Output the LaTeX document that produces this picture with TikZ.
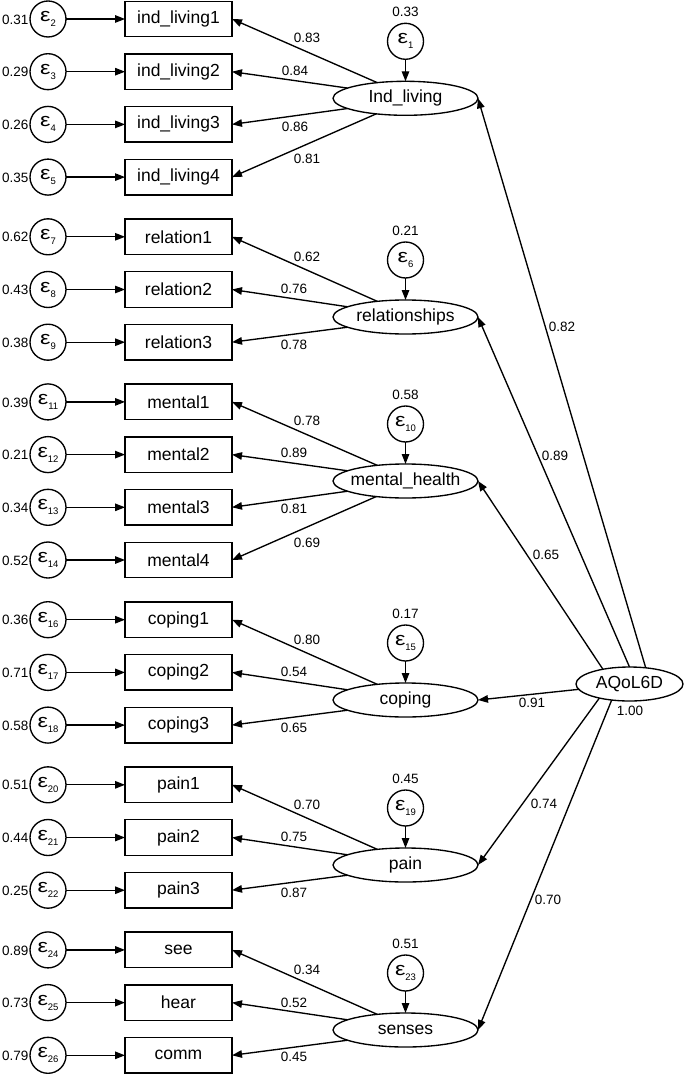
\documentclass[tikz,border=0pt]{standalone}
\usepackage{fontspec}
\setmainfont{Liberation Sans}
\usetikzlibrary{arrows.meta,calc,shapes.geometric}
\newcommand{\myeps}[1]{\raisebox{-1pt}{\fontsize{18}{18}\selectfont\scalebox{1.3}[1.05]{ε}}\raisebox{-6pt}{\fontsize{9.5}{9.5}\selectfont #1}}
\begin{document}
\begin{tikzpicture}[x=1pt,y=-1pt,
  conn/.style={line width=1.35pt,-{Triangle[length=10pt,width=7.5pt]}},
  obs/.style={draw,line width=1.35pt,rectangle,minimum width=107pt,minimum height=35.5pt,inner sep=0pt,outer sep=0pt,font=\fontsize{17.5}{18}\selectfont},
  lat/.style={draw,line width=1.35pt,ellipse,minimum width=145pt,minimum height=34pt,inner sep=0pt,outer sep=0pt,font=\fontsize{17.5}{18}\selectfont},
  err/.style={draw,line width=1.35pt,circle,minimum size=36pt,inner sep=0pt,outer sep=0pt},
  num/.style={inner sep=0pt,font=\fontsize{13.5}{14}\selectfont}
]
\useasboundingbox (0,0) rectangle (685,1075);

% observed indicators with their errors
\foreach \n/\y/\t/\v/\s in {
 i1/19/ind\_living1/0.31/2, i2/71.7/ind\_living2/0.29/3, i3/124.4/ind\_living3/0.26/4, i4/177.1/ind\_living4/0.35/5,
 r1/236.8/relation1/0.62/7, r2/289.5/relation2/0.43/8, r3/342.2/relation3/0.38/9,
 m1/401.9/mental1/0.39/11, m2/454.6/mental2/0.21/12, m3/507.3/mental3/0.34/13, m4/560/mental4/0.52/14,
 c1/619.7/coping1/0.36/16, c2/672.4/coping2/0.71/17, c3/725.1/coping3/0.58/18,
 p1/784.8/pain1/0.51/20, p2/837.5/pain2/0.44/21, p3/890.2/pain3/0.25/22,
 s1/949.9/see/0.89/24, s2/1002.6/hear/0.73/25, s3/1055.3/comm/0.79/26}
{
 \node[obs] (\n) at (178.5,\y) {\t};
 \node[err] (e\n) at (48,\y) {\myeps{\s}};
 \node[num,anchor=east] (v\n) at (28.5,\y+0.5) {\v};
 \draw[conn] (e\n) -- (\n.west);
}

% latent factors with their errors
\foreach \n/\y/\t/\v/\s in {
 IL/98.3/Ind\_living/0.33/1, REL/317/relationships/0.21/6, MH/481/mental\_health/0.58/10,
 COP/700/coping/0.17/15, PAIN/865/pain/0.45/19, SENS/1030/senses/0.51/23}
{
 \node[lat] (\n) at (405.5,\y) {\makebox[0pt]{\t}};
 \node[err] (e\n) at ($(\n)+(0,-57)$) {\myeps{\s}};
 \node[num] (v\n) at ($(\n)+(0,-86)$) {\v};
 \draw[conn] (e\n) -- (\n.north);
}

% loadings
\draw[conn] (IL.151.5) -- (i1.east);
\draw[conn] (IL.170) -- (i2.east);
\draw[conn] (IL.190) -- (i3.east);
\draw[conn] (IL.208.5) -- (i4.east);
\node[num] (lIL1) at (307,38) {0.83};
\node[num] (lIL2) at (295,71) {0.84};
\node[num] (lIL3) at (295,127) {0.86};
\node[num] (lIL4) at (307,159) {0.81};

\draw[conn] (REL.151.5) -- (r1.east);
\draw[conn] (REL.170) -- (r2.east);
\draw[conn] (REL.190) -- (r3.east);
\node[num] (lREL1) at (307,257) {0.62};
\node[num] (lREL2) at (294,289) {0.76};
\node[num] (lREL3) at (294,345) {0.78};

\draw[conn] (MH.151.5) -- (m1.east);
\draw[conn] (MH.170) -- (m2.east);
\draw[conn] (MH.190) -- (m3.east);
\draw[conn] (MH.208.5) -- (m4.east);
\node[num] (lMH1) at (307,421) {0.78};
\node[num] (lMH2) at (294,453) {0.89};
\node[num] (lMH3) at (294,509) {0.81};
\node[num] (lMH4) at (307,543) {0.69};

\draw[conn] (COP.151.5) -- (c1.east);
\draw[conn] (COP.170) -- (c2.east);
\draw[conn] (COP.190) -- (c3.east);
\node[num] (lCOP1) at (307,640) {0.80};
\node[num] (lCOP2) at (294,672) {0.54};
\node[num] (lCOP3) at (294,728) {0.65};

\draw[conn] (PAIN.151.5) -- (p1.east);
\draw[conn] (PAIN.170) -- (p2.east);
\draw[conn] (PAIN.190) -- (p3.east);
\node[num] (lPAIN1) at (307,805) {0.70};
\node[num] (lPAIN2) at (294,837) {0.75};
\node[num] (lPAIN3) at (294,893) {0.87};

\draw[conn] (SENS.151.5) -- (s1.east);
\draw[conn] (SENS.170) -- (s2.east);
\draw[conn] (SENS.190) -- (s3.east);
\node[num] (lSENS1) at (307,970) {0.34};
\node[num] (lSENS2) at (294,1003) {0.52};
\node[num] (lSENS3) at (294,1057) {0.45};

% second-order factor
\node[lat,minimum width=107pt] (AQ) at (629.5,684) {\makebox[0pt]{AQoL6D}};
\node[num] (vAQ) at (630,711) {1.00};
\draw[conn] (AQ.45) -- (IL.east);
\draw[conn] (AQ.north) -- (REL.east);
\draw[conn] (AQ.151) -- (MH.east);
\draw[conn] (AQ.186) -- (COP.east);
\draw[conn] (AQ.205) -- (PAIN.east);
\draw[conn] (AQ.222) -- (SENS.east);
\node[num] (lAQ1) at (562,327) {0.82};
\node[num] (lAQ2) at (555,456) {0.89};
\node[num] (lAQ3) at (546,555) {0.65};
\node[num] (lAQ4) at (532,703) {0.91};
\node[num] (lAQ5) at (544,804) {0.74};
\node[num] (lAQ6) at (548,900) {0.70};
\end{tikzpicture}
\end{document}
